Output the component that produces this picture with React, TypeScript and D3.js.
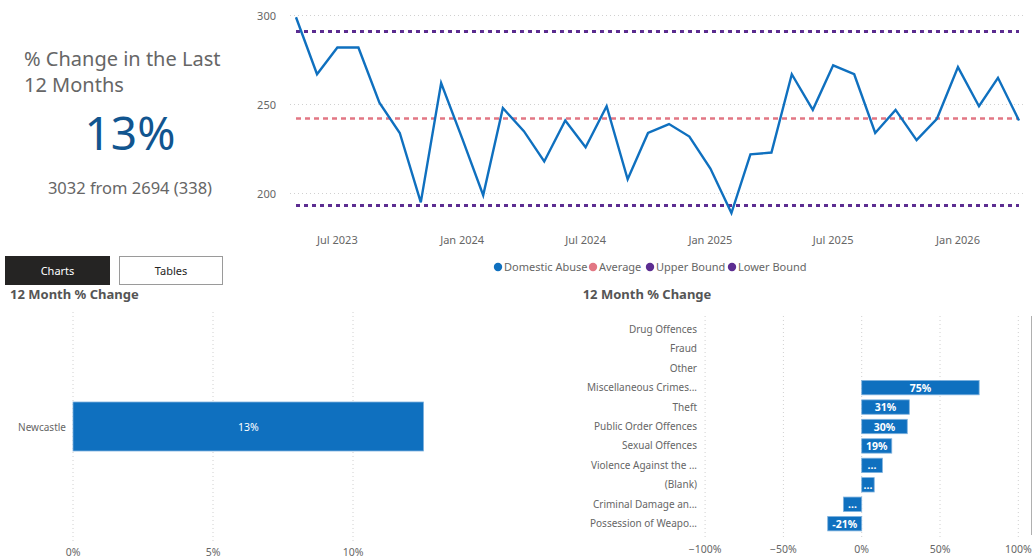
import React from 'react';
import * as d3 from 'd3';

// monthly counts, May 2023 .. Apr 2026
const monthStart = new Date(2023, 4, 1);
const monthlyCounts = [
  299, 267, 282, 282, 251, 234, 195, 262, 231, 199, 248, 235,
  218, 241, 226, 249, 208, 234, 239, 232, 214, 189, 222, 223,
  267, 247, 272, 267, 234, 247, 230, 242, 271, 249, 265, 241,
];
const averageValue = 242.2;
const upperBound = 291;
const lowerBound = 193.3;
const yTicks = [200, 250, 300];

const legendItems = ['Domestic Abuse', 'Average', 'Upper Bound', 'Lower Bound'];

const areaNames = ['Newcastle'];
const areaChange = [0.1252];
const areaLabels = ['13%'];
const areaTicks = [0, 0.05, 0.1];

const crimeTypes = [
  'Drug Offences', 'Fraud', 'Other', 'Miscellaneous Crimes...', 'Theft',
  'Public Order Offences', 'Sexual Offences', 'Violence Against the ...',
  '(Blank)', 'Criminal Damage an...', 'Possession of Weapo...',
];
const crimeChange: (number | null)[] = [null, null, null, 0.75, 0.304, 0.291, 0.192, 0.132, 0.08, -0.117, -0.217];
const crimeLabels = ['', '', '', '75%', '31%', '30%', '19%', '...', '...', '...', '-21%'];
const crimeTicks = [-1, -0.5, 0, 0.5, 1];

const FONT = '"Noto Sans", "Open Sans", sans-serif';
const BLUE = '#0F70BF';
const PINK = '#E27784';
const PURPLE = '#5C2D91';
const GREY = '#666666';

export default function App() {
  const dates = monthlyCounts.map((_, i) => d3.timeMonth.offset(monthStart, i));
  const x = d3.scaleTime().domain([dates[0], dates[dates.length - 1]]).range([296, 1019]);
  const y = d3.scaleLinear().domain([200, 300]).range([193.5, 15.5]);
  const line = d3.line<number>().x((_, i) => x(dates[i])).y(d => y(d));
  const xTicks = d3.timeMonth.every(6)!.range(new Date(2023, 6, 1), new Date(2026, 3, 1));
  const fmt = d3.timeFormat('%b %Y');

  const lx = d3.scaleLinear().domain([0, 0.05]).range([73, 213]);
  const ly = d3.scaleBand().domain(areaNames).range([402, 451]);

  const cx = d3.scaleLinear().domain([0, 0.5]).range([861.7, 940]);
  const cy = d3.scaleBand().domain(crimeTypes).range([319.6, 533.4]).paddingInner(0.26).paddingOuter(0.13);

  const legendX = [494, 589, 646, 728];
  const legendColors = [BLUE, PINK, PURPLE, PURPLE];

  return (
    <svg width={1033} height={558} style={{ position: 'absolute', left: 0, top: 0, background: '#fff' }} fontFamily={FONT}>
      {/* KPI card */}
      <text x={24} y={66} fontSize={20} fill={GREY}>% Change in the Last</text>
      <text x={24} y={92} fontSize={20} fill={GREY}>12 Months</text>
      <text x={130} y={150} fontSize={46} fill="#11558F" textAnchor="middle">13%</text>
      <text x={130} y={194} fontSize={16.5} fill={GREY} textAnchor="middle">3032 from 2694 (338)</text>

      {/* line chart */}
      {yTicks.map(t => (
        <g key={t}>
          <line x1={290} x2={1025} y1={y(t)} y2={y(t)} stroke="#d0d0d0" strokeDasharray="1,3" />
          <text x={276} y={y(t) + 4} fontSize={11} fill={GREY} textAnchor="end">{t}</text>
        </g>
      ))}
      {xTicks.map(t => (
        <text key={+t} x={x(t)} y={244} fontSize={11} fill={GREY} textAnchor="middle">{fmt(t)}</text>
      ))}
      <line x1={x(dates[0])} x2={x(dates[dates.length - 1])} y1={y(upperBound)} y2={y(upperBound)} stroke={PURPLE} strokeWidth={3} strokeDasharray="4,4" />
      <line x1={x(dates[0])} x2={x(dates[dates.length - 1])} y1={y(lowerBound)} y2={y(lowerBound)} stroke={PURPLE} strokeWidth={3} strokeDasharray="4,4" />
      <line x1={x(dates[0])} x2={x(dates[dates.length - 1])} y1={y(averageValue)} y2={y(averageValue)} stroke={PINK} strokeWidth={2.5} strokeDasharray="5,4" />
      <path d={line(monthlyCounts) || ''} fill="none" stroke={BLUE} strokeWidth={2.4} strokeLinejoin="miter" />

      {/* legend */}
      {legendItems.map((name, i) => (
        <g key={name}>
          <circle cx={legendX[i] + 4} cy={267} r={4.2} fill={legendColors[i]} />
          <text x={legendX[i] + 10} y={271} fontSize={11} fill={GREY}>{name}</text>
        </g>
      ))}

      {/* buttons */}
      <rect x={5} y={256} width={105} height={29} fill="#252423" />
      <text x={57.5} y={275} fontSize={11} fill="#fff" textAnchor="middle">Charts</text>
      <rect x={119.5} y={256.5} width={103} height={28} fill="#fff" stroke="#9a9a9a" />
      <text x={171} y={275} fontSize={11} fill="#252423" textAnchor="middle">Tables</text>

      {/* titles */}
      <text x={10} y={299} fontSize={13} fontWeight="bold" fill="#555">12 Month % Change</text>
      <text x={647} y={299} fontSize={13} fontWeight="bold" fill="#555" textAnchor="middle">12 Month % Change</text>

      {/* area bar chart */}
      {areaTicks.map(t => (
        <g key={t}>
          <line x1={lx(t)} x2={lx(t)} y1={312} y2={543} stroke="#d0d0d0" strokeDasharray="1,3" />
          <text x={lx(t)} y={556} fontSize={10.5} fill={GREY} textAnchor="middle">{d3.format('.0%')(t)}</text>
        </g>
      ))}
      {areaNames.map((n, i) => (
        <g key={n}>
          <rect x={lx(0)} y={ly(n)!} width={lx(areaChange[i]) - lx(0)} height={ly.bandwidth()} fill={BLUE} stroke="#7fb2de" strokeWidth={0.8} />
          <text x={(lx(0) + lx(areaChange[i])) / 2} y={ly(n)! + ly.bandwidth() / 2 + 4} fontSize={10.5} fill="#fff" textAnchor="middle">{areaLabels[i]}</text>
          <text x={66} y={ly(n)! + ly.bandwidth() / 2 + 4} fontSize={10} fill={GREY} textAnchor="end">{n}</text>
        </g>
      ))}

      {/* crime type bar chart */}
      {crimeTicks.map(t => (
        <g key={t}>
          <line x1={cx(t)} x2={cx(t)} y1={316} y2={540} stroke="#d0d0d0" strokeDasharray="1,3" />
          <text x={cx(t)} y={553} fontSize={10.5} fill={GREY} textAnchor="middle">{d3.format('.0%')(t)}</text>
        </g>
      ))}
      {crimeTypes.map((c, i) => {
        const v = crimeChange[i];
        const yy = cy(c)!;
        return (
          <g key={c}>
            <text x={697} y={yy + cy.bandwidth() / 2 + 3.5} fontSize={10} fill={GREY} textAnchor="end">{c}</text>
            {v !== null && (
              <>
                <rect x={Math.min(cx(0), cx(v))} y={yy} width={Math.abs(cx(v) - cx(0))} height={cy.bandwidth()} fill={BLUE} stroke="#7fb2de" strokeWidth={0.8} />
                <text x={(cx(0) + cx(v)) / 2} y={yy + cy.bandwidth() / 2 + 4} fontSize={10.5} fontWeight="bold" fill="#fff" textAnchor="middle">{crimeLabels[i]}</text>
              </>
            )}
          </g>
        );
      })}
      <line x1={1031.5} x2={1031.5} y1={316} y2={535} stroke="#b0b0b0" strokeWidth={1} />
    </svg>
  );
}
